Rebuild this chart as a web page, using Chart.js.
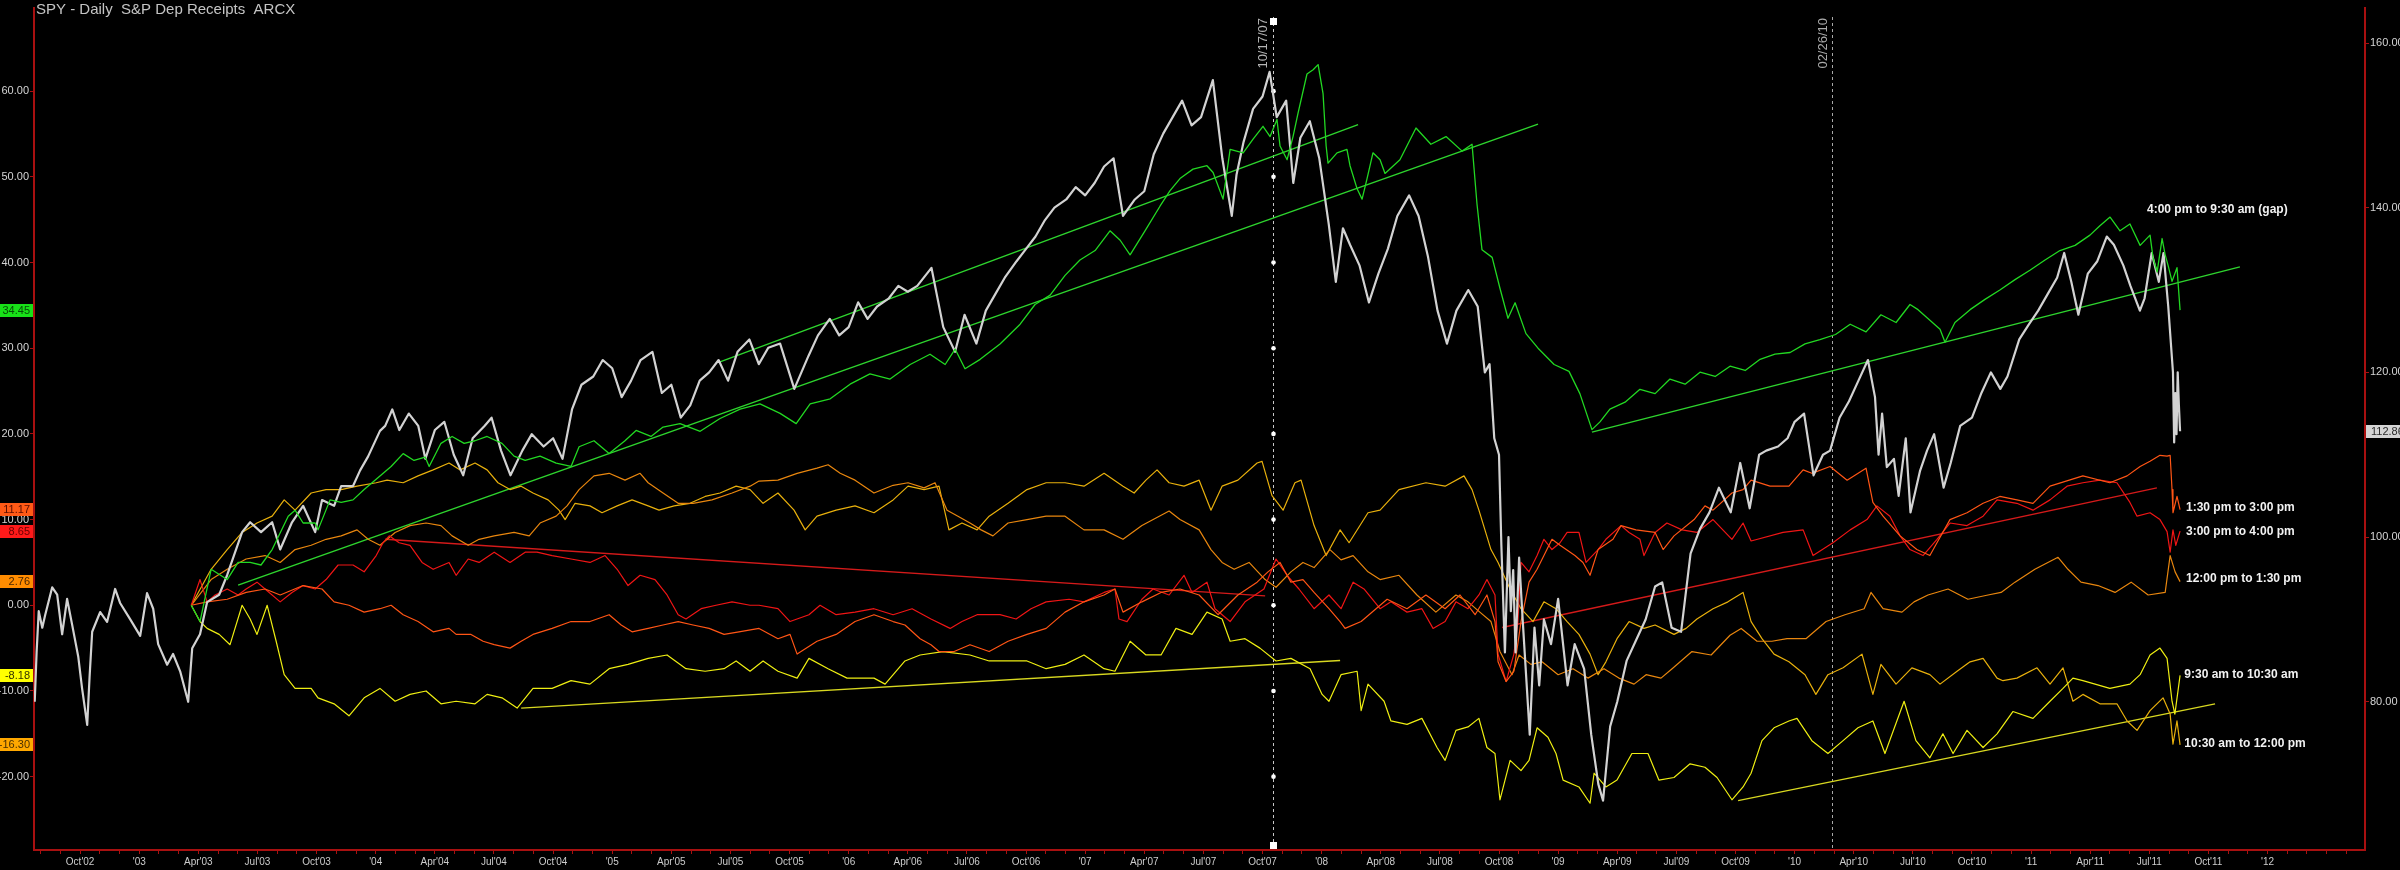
<!DOCTYPE html>
<html><head><meta charset="utf-8">
<script src="https://cdn.jsdelivr.net/npm/chart.js@4.4.1/dist/chart.umd.min.js"></script>
<style>html,body{margin:0;padding:0;background:#000;overflow:hidden}</style>
</head><body>
<canvas id="c" width="2400" height="870"></canvas>
<script>
// ---------- DATA ----------
const chartTitle = "SPY - Daily  S&P Dep Receipts  ARCX";
const xTickLabels = ["Oct'02","'03","Apr'03","Jul'03","Oct'03","'04","Apr'04","Jul'04","Oct'04","'05","Apr'05","Jul'05","Oct'05","'06","Apr'06","Jul'06","Oct'06","'07","Apr'07","Jul'07","Oct'07","'08","Apr'08","Jul'08","Oct'08","'09","Apr'09","Jul'09","Oct'09","'10","Apr'10","Jul'10","Oct'10","'11","Apr'11","Jul'11","Oct'11","'12"];
const leftTicks = [-20,-10,0,10,20,30,40,50,60];
const rightTicks = [80,100,120,140,160];
const seriesNames = ["4:00 pm to 9:30 am (gap)","1:30 pm to 3:00 pm","3:00 pm to 4:00 pm","12:00 pm to 1:30 pm","9:30 am to 10:30 am","10:30 am to 12:00 pm"];
const markerDates = [2007.793, 2010.158];
const markerLabels = ["10/17/07","02/26/10"];

// SPY price (right axis): [year fraction, price]
const spy = [[2002.558,80],[2002.566,86],[2002.575,91],[2002.59,89],[2002.602,90.5],[2002.632,93.9],[2002.653,93],[2002.674,88.2],[2002.695,92.5],[2002.716,89.4],[2002.742,85.5],[2002.758,81.7],[2002.78,77.2],[2002.79,83],[2002.801,88.5],[2002.835,90.9],[2002.864,89.7],[2002.898,93.7],[2002.919,92],[2002.962,90],[2003.004,88],[2003.033,93.2],[2003.059,91.3],[2003.08,87],[2003.118,84.5],[2003.143,85.8],[2003.173,83.7],[2003.207,80],[2003.224,86.5],[2003.257,88.2],[2003.287,92.1],[2003.338,93],[2003.372,95.4],[2003.435,100.6],[2003.469,101.8],[2003.515,100.6],[2003.562,101.8],[2003.596,98.5],[2003.646,101.8],[2003.693,103.8],[2003.744,100.6],[2003.773,104.5],[2003.824,103.8],[2003.854,106.2],[2003.904,106.2],[2003.934,108.1],[2003.968,109.8],[2004.018,112.9],[2004.04,113.5],[2004.07,115.5],[2004.1,113],[2004.14,115],[2004.18,113.5],[2004.21,109.5],[2004.25,113],[2004.29,114],[2004.33,110],[2004.37,107.5],[2004.41,112],[2004.46,113.5],[2004.49,114.5],[2004.53,110.5],[2004.57,107.5],[2004.62,110.5],[2004.66,112.5],[2004.71,111],[2004.75,112],[2004.79,109.5],[2004.83,115.5],[2004.87,118.5],[2004.92,119.5],[2004.96,121.5],[2005,120.5],[2005.04,117],[2005.08,119],[2005.12,121.5],[2005.17,122.5],[2005.21,117.5],[2005.25,118.5],[2005.29,114.5],[2005.33,116],[2005.37,119],[2005.41,120],[2005.45,121.5],[2005.49,119],[2005.53,122.5],[2005.58,124],[2005.62,121],[2005.66,123],[2005.71,123.5],[2005.77,118],[2005.83,122],[2005.87,124.5],[2005.92,126.5],[2005.96,124.5],[2006,125.5],[2006.04,128.5],[2006.08,126.5],[2006.12,128],[2006.17,129],[2006.21,130.5],[2006.25,129.8],[2006.29,130.5],[2006.35,132.7],[2006.4,125.5],[2006.45,122.5],[2006.49,127],[2006.54,123.5],[2006.58,127.5],[2006.62,129.5],[2006.66,131.5],[2006.71,133.5],[2006.75,135],[2006.79,136.5],[2006.83,138.5],[2006.87,140],[2006.92,141],[2006.96,142.5],[2007,141.5],[2007.04,143],[2007.08,145],[2007.12,146],[2007.16,139],[2007.21,141],[2007.25,142],[2007.29,146.5],[2007.33,149],[2007.37,151],[2007.41,153],[2007.45,150],[2007.49,151],[2007.54,155.5],[2007.58,146],[2007.62,139],[2007.64,144],[2007.67,148],[2007.71,152],[2007.75,153.5],[2007.78,156.5],[2007.81,151],[2007.85,153],[2007.88,143],[2007.91,148.5],[2007.95,150.5],[2007.99,146],[2008.03,138],[2008.06,131],[2008.09,137.5],[2008.12,135.5],[2008.16,133],[2008.2,128.5],[2008.24,132],[2008.28,135],[2008.32,139],[2008.37,141.5],[2008.41,139],[2008.45,134],[2008.49,127.5],[2008.53,123.5],[2008.57,127.5],[2008.62,130],[2008.66,128],[2008.69,120],[2008.71,121],[2008.73,112],[2008.75,110],[2008.76,99],[2008.775,86],[2008.79,100],[2008.8,91],[2008.81,96],[2008.82,86],[2008.835,97.5],[2008.85,90],[2008.88,76],[2008.9,89],[2008.92,82],[2008.94,90],[2008.97,87],[2009,92.5],[2009.04,82],[2009.07,87],[2009.11,84],[2009.14,76],[2009.17,70],[2009.19,68],[2009.22,77],[2009.25,80],[2009.29,85],[2009.33,87.5],[2009.37,90],[2009.41,94],[2009.44,94.5],[2009.48,89],[2009.52,88.5],[2009.56,98],[2009.6,101],[2009.64,103],[2009.68,106],[2009.73,103],[2009.77,109],[2009.81,103.5],[2009.85,110],[2009.88,110.5],[2009.93,111],[2009.97,112],[2010,114],[2010.04,115],[2010.08,107.5],[2010.12,110],[2010.15,110.5],[2010.19,114.5],[2010.23,116.5],[2010.27,119],[2010.31,121.5],[2010.34,117],[2010.355,110],[2010.37,115],[2010.39,108.5],[2010.42,109.5],[2010.44,105],[2010.47,112],[2010.49,103],[2010.53,108],[2010.56,110.5],[2010.59,112.5],[2010.63,106],[2010.66,109],[2010.7,113.5],[2010.75,114.5],[2010.79,117.5],[2010.83,120],[2010.87,118],[2010.9,119.5],[2010.95,124],[2010.99,125.8],[2011.03,127.5],[2011.07,129.5],[2011.11,131.5],[2011.14,134.5],[2011.17,131],[2011.2,127],[2011.24,132],[2011.28,133.5],[2011.32,136.5],[2011.35,135.5],[2011.39,133],[2011.42,130.5],[2011.46,127.5],[2011.48,129],[2011.51,134.5],[2011.54,131],[2011.56,134.5],[2011.58,128],[2011.6,120],[2011.605,111.5],[2011.61,117.5],[2011.615,112.5],[2011.62,120],[2011.625,116],[2011.63,112.86]];

// cumulative points (left axis): [year fraction, value]
const gap = [[2003.22,0],[2003.257,-1.9],[2003.304,4.2],[2003.372,3],[2003.418,5],[2003.469,5],[2003.515,4.7],[2003.562,6.5],[2003.63,10.4],[2003.659,11.1],[2003.693,9.6],[2003.744,9.6],[2003.756,8.8],[2003.807,12.3],[2003.854,12],[2003.904,12.3],[2003.951,13.5],[2004.018,15.1],[2004.065,16.2],[2004.116,17.7],[2004.162,16.9],[2004.209,17.3],[2004.226,16.2],[2004.276,18.9],[2004.323,19.7],[2004.374,18.9],[2004.42,19.2],[2004.471,19.7],[2004.534,18.9],[2004.585,17.4],[2004.632,16.9],[2004.695,17.4],[2004.763,16.6],[2004.826,16.2],[2004.86,18.5],[2004.923,19.2],[2004.987,17.7],[2005.054,19.2],[2005.101,20.4],[2005.164,19.7],[2005.215,20.8],[2005.287,21.2],[2005.372,20.3],[2005.456,21.8],[2005.541,22.9],[2005.625,23.5],[2005.71,22.4],[2005.778,21.2],[2005.837,23.5],[2005.922,24.1],[2006.006,25.8],[2006.09,27],[2006.175,26.4],[2006.26,28.1],[2006.344,29.3],[2006.408,28.1],[2006.45,29.9],[2006.492,27.6],[2006.556,28.7],[2006.64,30.5],[2006.725,32.8],[2006.788,35.1],[2006.852,36.2],[2006.915,38.5],[2006.978,40.3],[2007.042,41.4],[2007.105,43.7],[2007.148,42.6],[2007.19,40.9],[2007.253,43.7],[2007.317,46.6],[2007.359,48.4],[2007.401,49.8],[2007.456,50.9],[2007.515,51.3],[2007.541,50.5],[2007.583,47.4],[2007.613,53.2],[2007.668,52.8],[2007.71,54.4],[2007.752,55.9],[2007.782,54.7],[2007.811,56.7],[2007.824,53.6],[2007.854,52],[2007.879,54.7],[2007.9,57.4],[2007.938,62],[2007.964,62.5],[2007.985,63.1],[2008.006,59.7],[2008.019,53.6],[2008.027,51.6],[2008.065,52.8],[2008.107,53.2],[2008.12,51.3],[2008.15,48.6],[2008.171,47.4],[2008.192,49.8],[2008.217,52.8],[2008.247,52],[2008.268,50.4],[2008.331,52],[2008.399,55.7],[2008.462,53.8],[2008.526,54.7],[2008.594,53],[2008.636,53.8],[2008.657,46.8],[2008.678,41.5],[2008.721,40.6],[2008.754,37],[2008.788,33.5],[2008.818,35.3],[2008.864,31.7],[2008.915,30],[2008.983,28.1],[2009.046,27.3],[2009.092,24.7],[2009.143,20.5],[2009.177,21.4],[2009.219,22.9],[2009.283,23.7],[2009.346,25.2],[2009.41,24.7],[2009.473,26.4],[2009.537,25.8],[2009.6,27.2],[2009.664,26.7],[2009.727,27.9],[2009.791,27.4],[2009.854,28.7],[2009.917,29.3],[2009.981,29.5],[2010.044,30.5],[2010.107,31],[2010.173,31.6],[2010.235,32.8],[2010.302,31.9],[2010.365,33.9],[2010.429,33],[2010.488,35.1],[2010.522,34.5],[2010.615,32.2],[2010.636,30.7],[2010.678,33],[2010.742,34.5],[2010.805,35.7],[2010.868,36.8],[2010.932,38],[2010.995,39.1],[2011.059,40.3],[2011.122,41.4],[2011.186,42],[2011.249,43.2],[2011.291,44.3],[2011.334,45.3],[2011.376,43.7],[2011.418,44.5],[2011.461,42],[2011.503,43.2],[2011.516,40.5],[2011.533,38.9],[2011.554,42.8],[2011.567,40.9],[2011.579,39.7],[2011.596,37.8],[2011.617,39.4],[2011.63,34.45]];

const pm130 = [[2003.22,0],[2003.287,0.4],[2003.372,0.7],[2003.452,1.5],[2003.532,1.9],[2003.596,1.2],[2003.693,2.3],[2003.773,1.9],[2003.824,0.4],[2003.887,0],[2003.951,-0.8],[2004.018,-0.4],[2004.065,0],[2004.116,-1.1],[2004.179,-1.9],[2004.243,-3.1],[2004.31,-2.7],[2004.34,-3.4],[2004.403,-3.4],[2004.454,-4.2],[2004.501,-4.6],[2004.568,-5],[2004.615,-4.2],[2004.665,-3.4],[2004.746,-2.7],[2004.826,-1.9],[2004.906,-1.9],[2004.987,-1.1],[2005.038,-2.3],[2005.084,-3.1],[2005.152,-2.7],[2005.215,-2.3],[2005.279,-1.9],[2005.342,-2.3],[2005.41,-2.7],[2005.473,-3.4],[2005.536,-3.1],[2005.621,-2.7],[2005.701,-3.9],[2005.752,-3.4],[2005.782,-5.7],[2005.866,-4.2],[2005.947,-3.4],[2006.027,-1.9],[2006.107,-1.1],[2006.188,-1.9],[2006.238,-2.3],[2006.302,-3.9],[2006.348,-4.6],[2006.382,-5.4],[2006.446,-5.4],[2006.513,-4.6],[2006.594,-5.4],[2006.674,-4.2],[2006.754,-3.4],[2006.835,-2.7],[2006.915,-0.8],[2006.995,0.4],[2007.08,1.2],[2007.126,1.9],[2007.16,-0.8],[2007.24,0.4],[2007.321,1.5],[2007.401,1.9],[2007.482,1.2],[2007.562,-1.1],[2007.646,1.2],[2007.727,2.7],[2007.773,3.9],[2007.824,5],[2007.87,2.7],[2007.921,3],[2007.968,1.5],[2008.031,-0.4],[2008.078,-1.9],[2008.099,-2.7],[2008.167,-1.9],[2008.23,-0.4],[2008.277,0.7],[2008.361,-0.4],[2008.441,1.2],[2008.522,-0.4],[2008.585,1.2],[2008.649,-1.1],[2008.699,1.2],[2008.733,-1.9],[2008.746,-6.6],[2008.78,-8.9],[2008.813,-7.7],[2008.843,-1.9],[2008.877,2.7],[2008.911,4.2],[2008.94,5.8],[2008.974,7.7],[2009.008,7],[2009.071,5.8],[2009.105,5],[2009.135,3.5],[2009.169,6.5],[2009.232,7.7],[2009.266,9.3],[2009.329,8.8],[2009.41,8.5],[2009.444,6.5],[2009.49,8.1],[2009.575,10],[2009.621,11.6],[2009.655,11.1],[2009.735,13.1],[2009.782,13.5],[2009.816,14.6],[2009.896,13.9],[2009.976,13.9],[2010.036,15.8],[2010.073,15.4],[2010.15,16.2],[2010.222,14.6],[2010.302,16],[2010.331,12],[2010.374,10.4],[2010.446,8.1],[2010.517,6.5],[2010.572,5.8],[2010.602,7.3],[2010.657,10],[2010.729,10.8],[2010.797,11.9],[2010.868,12.7],[2010.94,12.3],[2011.008,11.9],[2011.08,13.9],[2011.219,15.1],[2011.333,14.3],[2011.406,15.1],[2011.461,16.2],[2011.503,16.8],[2011.545,17.5],[2011.575,17.4],[2011.588,17.5],[2011.596,13.5],[2011.6,10.8],[2011.617,12.7],[2011.63,11.17]];

const pm300 = [[2003.22,0],[2003.257,3],[2003.287,0.4],[2003.321,1.2],[2003.372,1.9],[2003.418,1.2],[2003.452,1.9],[2003.498,2.7],[2003.532,1.9],[2003.596,0.4],[2003.646,1.5],[2003.693,2.3],[2003.744,1.9],[2003.79,3],[2003.841,4.7],[2003.904,4.7],[2003.951,3.9],[2004.002,5.8],[2004.031,7.3],[2004.057,8.1],[2004.099,7.3],[2004.145,7],[2004.196,5],[2004.243,4.2],[2004.31,5],[2004.34,3.5],[2004.391,5.4],[2004.437,5],[2004.501,6.2],[2004.568,5],[2004.632,6.2],[2004.682,6.2],[2004.746,5.8],[2004.826,5.4],[2004.906,5],[2004.97,5.8],[2005.021,4.2],[2005.067,2.3],[2005.118,3.5],[2005.181,3],[2005.232,1.2],[2005.279,-1.1],[2005.312,-1.6],[2005.376,-0.4],[2005.439,0],[2005.507,0.4],[2005.583,0],[2005.621,0],[2005.701,-0.4],[2005.752,-1.9],[2005.832,-1.1],[2005.879,0],[2005.947,-1.1],[2006.027,-0.8],[2006.107,-0.4],[2006.188,-1.1],[2006.268,-0.4],[2006.348,-1.6],[2006.429,-2.7],[2006.479,-1.9],[2006.543,-1.1],[2006.64,-1.1],[2006.708,-1.6],[2006.771,-0.4],[2006.835,0.4],[2006.932,0.7],[2006.995,0.4],[2007.08,1.5],[2007.126,1.9],[2007.143,-1.6],[2007.177,-1.9],[2007.24,0.7],[2007.287,1.9],[2007.355,1.2],[2007.418,3.5],[2007.452,1.5],[2007.515,2.7],[2007.549,-0.4],[2007.613,-1.9],[2007.676,0.4],[2007.756,1.9],[2007.807,5.4],[2007.854,3.5],[2007.904,1.9],[2007.968,-0.4],[2008.031,1.2],[2008.082,-0.4],[2008.133,2.7],[2008.179,1.9],[2008.247,-0.4],[2008.293,0.4],[2008.361,-0.8],[2008.424,-0.4],[2008.471,-2.7],[2008.522,-1.9],[2008.568,0.4],[2008.619,-0.4],[2008.665,1.2],[2008.699,3],[2008.733,1.2],[2008.746,-5.7],[2008.78,-8.9],[2008.813,-5.7],[2008.83,-1.9],[2008.843,5],[2008.877,3.9],[2008.911,5.8],[2008.94,7.7],[2008.974,6.5],[2009.008,7.3],[2009.038,8.5],[2009.088,8.5],[2009.118,5],[2009.169,6.5],[2009.202,7.7],[2009.266,9.3],[2009.3,8.5],[2009.346,7.7],[2009.363,5.8],[2009.41,8.5],[2009.46,9.6],[2009.524,8.8],[2009.587,8.5],[2009.655,10],[2009.735,7.7],[2009.782,9.6],[2009.816,7.5],[2009.951,8.5],[2010.036,8.8],[2010.078,5.8],[2010.162,7.3],[2010.235,8.8],[2010.306,10],[2010.348,11.6],[2010.403,10.4],[2010.446,8.1],[2010.488,6.5],[2010.543,5.8],[2010.602,7.7],[2010.657,9.6],[2010.729,9.3],[2010.797,10.4],[2010.856,12.3],[2010.94,11.9],[2011.008,11.1],[2011.08,12.3],[2011.152,13.9],[2011.219,14.3],[2011.291,14.6],[2011.363,14.3],[2011.418,12],[2011.448,10.4],[2011.503,10.8],[2011.545,10],[2011.575,8.6],[2011.588,6.2],[2011.6,8.8],[2011.612,7],[2011.63,8.65]];

const pm1200 = [[2003.22,0],[2003.304,3],[2003.372,4.2],[2003.452,5.4],[2003.532,5.8],[2003.596,5],[2003.659,6.5],[2003.727,7],[2003.79,7.7],[2003.854,8.1],[2003.921,8.8],[2003.968,7.7],[2004.018,7],[2004.082,8.5],[2004.145,9.3],[2004.213,9.6],[2004.276,9.3],[2004.323,8.1],[2004.391,7],[2004.437,7.7],[2004.501,8.1],[2004.585,8.5],[2004.649,8.1],[2004.695,9.6],[2004.763,10.4],[2004.809,11.6],[2004.86,13.5],[2004.923,15.1],[2004.987,15.4],[2005.054,14.6],[2005.118,15.4],[2005.152,14.3],[2005.215,13.1],[2005.279,11.9],[2005.342,11.9],[2005.422,12.3],[2005.507,13.1],[2005.583,13.9],[2005.621,14.5],[2005.701,14.6],[2005.782,15.4],[2005.866,16],[2005.913,16.4],[2005.964,15.4],[2006.027,14.6],[2006.107,13.1],[2006.188,14],[2006.251,14.3],[2006.319,13.7],[2006.365,14.3],[2006.416,11.1],[2006.462,10.4],[2006.513,9.6],[2006.56,8.8],[2006.61,8.1],[2006.674,9.6],[2006.754,10],[2006.835,10.4],[2006.915,10.4],[2006.995,8.8],[2007.08,8.8],[2007.16,7.7],[2007.24,9.3],[2007.355,11],[2007.401,10],[2007.482,8.8],[2007.532,6.5],[2007.579,5],[2007.63,4.2],[2007.693,5],[2007.761,3],[2007.807,2.1],[2007.87,3.9],[2007.921,5],[2007.968,4.4],[2008.035,6.5],[2008.082,5.3],[2008.133,5.8],[2008.196,3.9],[2008.247,3],[2008.327,3.5],[2008.403,1.2],[2008.483,-0.8],[2008.568,1.2],[2008.619,0.4],[2008.669,-0.8],[2008.716,-1.9],[2008.754,-5.4],[2008.805,-8.1],[2008.835,-5.8],[2008.885,-6.9],[2008.932,-6.6],[2009,-8.1],[2009.063,-7.4],[2009.126,-8.5],[2009.194,-7.4],[2009.257,-8.5],[2009.321,-9.2],[2009.372,-8.1],[2009.435,-8.5],[2009.482,-7.4],[2009.566,-5.4],[2009.647,-5.8],[2009.727,-3.5],[2009.774,-2.7],[2009.841,-4.2],[2009.904,-4.2],[2009.968,-3.9],[2010.048,-3.9],[2010.133,-1.9],[2010.213,-1.1],[2010.294,-0.4],[2010.323,1.5],[2010.374,-0.4],[2010.454,-0.8],[2010.505,0.4],[2010.564,1.2],[2010.649,1.9],[2010.733,0.7],[2010.818,1.2],[2010.873,1.5],[2010.932,2.7],[2011.016,4.2],[2011.071,5],[2011.114,5.6],[2011.156,4.2],[2011.211,2.7],[2011.283,2.3],[2011.355,1.5],[2011.423,2.7],[2011.495,1.2],[2011.567,1.5],[2011.588,5.8],[2011.609,3.9],[2011.63,2.76]];

const am930 = [[2003.22,0],[2003.257,-1.9],[2003.287,-2.7],[2003.338,-3.4],[2003.384,-4.6],[2003.435,0],[2003.469,-1.6],[2003.498,-3.4],[2003.541,0],[2003.579,-4.2],[2003.613,-8.1],[2003.659,-9.7],[2003.727,-9.7],[2003.756,-10.8],[2003.824,-11.5],[2003.887,-12.9],[2003.951,-10.8],[2004.018,-9.7],[2004.082,-11.2],[2004.145,-10.4],[2004.213,-10],[2004.276,-11.5],[2004.34,-11.2],[2004.42,-11.5],[2004.471,-10.4],[2004.534,-10.8],[2004.598,-12],[2004.665,-9.7],[2004.746,-9.7],[2004.826,-8.8],[2004.906,-9.2],[2004.987,-7.4],[2005.067,-6.9],[2005.152,-6.2],[2005.232,-5.8],[2005.312,-7.4],[2005.393,-7.7],[2005.473,-7.4],[2005.524,-6.5],[2005.583,-7.7],[2005.638,-6.5],[2005.701,-7.7],[2005.782,-8.5],[2005.832,-6.2],[2005.913,-7.4],[2005.993,-8.5],[2006.107,-8.5],[2006.154,-9.2],[2006.238,-6.5],[2006.302,-5.8],[2006.399,-5.4],[2006.513,-5.8],[2006.594,-6.5],[2006.674,-6.5],[2006.754,-6.5],[2006.835,-7.4],[2006.915,-6.9],[2006.995,-5.8],[2007.08,-7.4],[2007.126,-7.7],[2007.19,-4.2],[2007.257,-5.8],[2007.321,-5.8],[2007.384,-2.7],[2007.452,-3.4],[2007.515,-0.8],[2007.579,-1.6],[2007.613,-4.2],[2007.676,-3.9],[2007.739,-5],[2007.807,-6.5],[2007.87,-6.2],[2007.951,-7.4],[2008.002,-10.4],[2008.031,-11.2],[2008.082,-8.1],[2008.15,-7.7],[2008.167,-12.3],[2008.196,-9.2],[2008.264,-11.2],[2008.293,-13.5],[2008.361,-13.9],[2008.424,-13.2],[2008.488,-16.6],[2008.522,-18.1],[2008.568,-14.6],[2008.619,-14.2],[2008.665,-13.2],[2008.699,-16.6],[2008.733,-17.3],[2008.754,-22.7],[2008.797,-18.1],[2008.843,-19.3],[2008.877,-18.1],[2008.911,-14.3],[2008.957,-15.4],[2008.991,-17.3],[2009.021,-20.4],[2009.088,-21.2],[2009.135,-23.1],[2009.152,-19.6],[2009.202,-21.2],[2009.249,-20.4],[2009.312,-17.3],[2009.38,-17.3],[2009.426,-20.4],[2009.49,-20.1],[2009.558,-18.5],[2009.621,-18.9],[2009.672,-20.1],[2009.735,-22.7],[2009.782,-21.2],[2009.816,-19.6],[2009.862,-15.8],[2009.913,-14.3],[2009.976,-13.5],[2010.01,-13.2],[2010.073,-15.8],[2010.141,-17.3],[2010.205,-15.8],[2010.268,-14.3],[2010.331,-13.5],[2010.382,-17.3],[2010.463,-11.2],[2010.513,-15.8],[2010.572,-17.8],[2010.627,-15],[2010.67,-17.3],[2010.729,-14.6],[2010.797,-16.6],[2010.856,-15],[2010.923,-12.4],[2011.008,-13.2],[2011.08,-11.2],[2011.135,-9.7],[2011.177,-8.5],[2011.219,-8.8],[2011.333,-9.7],[2011.418,-9.2],[2011.461,-8.1],[2011.503,-5.8],[2011.545,-5],[2011.575,-6.2],[2011.596,-11.2],[2011.608,-12.7],[2011.63,-8.18]];

const am1030 = [[2003.22,0],[2003.304,4.2],[2003.372,6.5],[2003.435,8.5],[2003.498,9.6],[2003.562,10.4],[2003.613,12.3],[2003.659,11.1],[2003.727,13.1],[2003.79,13.5],[2003.854,13.5],[2003.921,13.9],[2004.002,14.3],[2004.048,14.6],[2004.116,14.3],[2004.179,15.1],[2004.243,15.8],[2004.31,16.6],[2004.357,15.8],[2004.42,16.6],[2004.471,15.8],[2004.517,14.3],[2004.568,13.5],[2004.615,13.9],[2004.665,13.1],[2004.729,12.3],[2004.775,11.1],[2004.801,10],[2004.843,11.9],[2004.906,11.6],[2004.957,10.8],[2005.021,11.6],[2005.084,12.3],[2005.152,11.6],[2005.198,11.1],[2005.262,11.6],[2005.329,11.9],[2005.393,12.7],[2005.456,13.1],[2005.524,13.9],[2005.583,13.5],[2005.638,11.9],[2005.701,13.1],[2005.769,11.1],[2005.816,8.8],[2005.866,10.4],[2005.947,11.1],[2006.027,11.6],[2006.107,10.8],[2006.188,12.3],[2006.251,13.9],[2006.319,13.5],[2006.382,13.9],[2006.424,8.8],[2006.479,9.6],[2006.543,8.8],[2006.594,10.4],[2006.674,11.9],[2006.754,13.5],[2006.835,14.3],[2006.915,14.3],[2006.995,13.9],[2007.08,15.4],[2007.16,13.9],[2007.207,13.1],[2007.257,14.6],[2007.304,15.8],[2007.355,14.3],[2007.418,13.9],[2007.482,14.6],[2007.532,11.1],[2007.579,13.9],[2007.646,14.6],[2007.727,16.6],[2007.748,16.8],[2007.79,12.8],[2007.837,11.1],[2007.887,14.3],[2007.913,14.6],[2007.968,9.3],[2008.019,5.8],[2008.078,8.8],[2008.116,7.3],[2008.196,10.8],[2008.247,11.1],[2008.327,13.5],[2008.441,14.3],[2008.522,13.9],[2008.602,15.1],[2008.636,13.5],[2008.665,11.1],[2008.716,6.5],[2008.746,5],[2008.797,1.9],[2008.843,-0.4],[2008.894,-1.9],[2008.94,0.4],[2008.991,-0.4],[2009.038,-1.9],[2009.088,-3.4],[2009.135,-5.7],[2009.169,-8.1],[2009.202,-6.6],[2009.249,-3.9],[2009.3,-1.9],[2009.363,-2.7],[2009.41,-2.3],[2009.49,-3.4],[2009.541,-2.7],[2009.587,-1.6],[2009.655,-0.4],[2009.718,0.4],[2009.782,1.5],[2009.816,-1.9],[2009.862,-3.9],[2009.913,-5.7],[2009.976,-6.6],[2010.044,-8.1],[2010.09,-10.4],[2010.141,-8.1],[2010.205,-7.3],[2010.285,-5.7],[2010.331,-10.4],[2010.365,-6.9],[2010.429,-9.2],[2010.496,-7.3],[2010.572,-8.1],[2010.615,-9.2],[2010.687,-7.7],[2010.742,-6.6],[2010.797,-6.2],[2010.856,-8.5],[2010.881,-8.8],[2010.94,-8.5],[2011.025,-7.3],[2011.08,-9.2],[2011.135,-7.3],[2011.177,-11.2],[2011.219,-10.4],[2011.291,-11.5],[2011.363,-11.5],[2011.406,-13.5],[2011.448,-14.6],[2011.503,-12.3],[2011.558,-10.8],[2011.588,-12.7],[2011.6,-16.2],[2011.617,-13.5],[2011.63,-16.3]];

// trend lines drawn on the chart: [year fraction, value]
const trendGapLong = [[2003.418,2.35],[2008.915,56.15]];
const trendGapShort = [[2005.456,28.4],[2008.154,56.1]];
const trendGapRecent = [[2009.143,20.2],[2011.883,39.5]];
const trendRedDown = [[2004.04,7.7],[2007.761,1.1]];
const trendRedUp = [[2008.763,-2.6],[2011.532,13.7]];
const trendYellowEarly = [[2004.615,-12.0],[2008.078,-6.45]];
const trendYellowLate = [[2009.761,-22.8],[2011.778,-11.5]];

// ---------- STYLE ----------
const FONT = "'Liberation Sans', Arial, sans-serif";
const cols = {gap:'#22d822', pm130:'#ff5515', pm300:'#f01515', pm1200:'#e8860e', am930:'#eeee12', am1030:'#e8b00c'};
const toXY = a => a.map(p => ({x:p[0], y:p[1]}));
const line = (label, data, color, axis, w) => ({label, data: toXY(data), borderColor: color, borderWidth: w, yAxisID: axis, pointRadius: 0, fill: false});

const datasets = [
  line(seriesNames[0], gap, cols.gap, 'yL', 1.3),
  line('SPY', spy, '#d2d2d2', 'yR', 2.2),
  line(seriesNames[1], pm130, cols.pm130, 'yL', 1.2),
  line(seriesNames[2], pm300, cols.pm300, 'yL', 1.2),
  line(seriesNames[3], pm1200, cols.pm1200, 'yL', 1.2),
  line(seriesNames[4], am930, cols.am930, 'yL', 1.2),
  line(seriesNames[5], am1030, cols.am1030, 'yL', 1.2),
  line('t1', trendGapLong, '#2ed42e', 'yL', 1.4),
  line('t2', trendGapShort, '#2ed42e', 'yL', 1.4),
  line('t3', trendGapRecent, '#2ed42e', 'yL', 1.4),
  line('t4', trendRedDown, '#d41a1a', 'yL', 1.4),
  line('t5', trendRedUp, '#d41a1a', 'yL', 1.4),
  line('t6', trendYellowEarly, '#d8d820', 'yL', 1.4),
  line('t7', trendYellowLate, '#d8d820', 'yL', 1.4)
];

const endBoxes = [
  {v: gap[gap.length-1][1], bg:'#18e018', fg:'#064a06'},
  {v: pm130[pm130.length-1][1], bg:'#ff5a16', fg:'#5a0e00'},
  {v: pm300[pm300.length-1][1], bg:'#ff1a1a', fg:'#6a0000'},
  {v: pm1200[pm1200.length-1][1], bg:'#ff8c00', fg:'#4a2600'},
  {v: am930[am930.length-1][1], bg:'#ffff00', fg:'#333300'},
  {v: am1030[am1030.length-1][1], bg:'#ffa800', fg:'#4a3000'}
];
const labelSpots = [
  {text: seriesNames[0], t: 2011.49, v: 46.2},
  {text: seriesNames[1], t: 2011.655, v: 11.4},
  {text: seriesNames[2], t: 2011.655, v: 8.6},
  {text: seriesNames[3], t: 2011.655, v: 3.1},
  {text: seriesNames[4], t: 2011.648, v: -8.1},
  {text: seriesNames[5], t: 2011.648, v: -16.1}
];

const overlay = {
  id: 'overlay',
  beforeDraw(chart) {
    const c = chart.ctx; c.save(); c.fillStyle = '#000'; c.fillRect(0, 0, chart.width, chart.height); c.restore();
  },
  beforeDatasetsDraw(chart) {
    const ctx = chart.ctx, xs = chart.scales.x, yl = chart.scales.yL, ca = chart.chartArea;
    ctx.save();
    markerDates.forEach((d, i) => {
      const x = Math.round(xs.getPixelForValue(d)) + 0.5;
      ctx.strokeStyle = i === 0 ? '#c8c8c8' : '#a8a8a8';
      ctx.lineWidth = 1;
      ctx.setLineDash([3, 3]);
      ctx.beginPath(); ctx.moveTo(x, 17); ctx.lineTo(x, ca.bottom - 2); ctx.stroke();
      ctx.setLineDash([]);
      if (i === 0) {
        ctx.fillStyle = '#ffffff';
        ctx.fillRect(x - 3.5, 18, 7, 7);
        ctx.fillRect(x - 3.5, ca.bottom - 8, 7, 7);
        leftTicks.forEach(v => {
          ctx.beginPath(); ctx.arc(x, yl.getPixelForValue(v), 2.3, 0, Math.PI * 2); ctx.fill();
        });
      }
    });
    ctx.restore();
  },
  afterDraw(chart) {
    const ctx = chart.ctx, xs = chart.scales.x, yl = chart.scales.yL, yr = chart.scales.yR, ca = chart.chartArea;
    ctx.save();
    markerDates.forEach((d, i) => {
      const x = xs.getPixelForValue(d);
      ctx.save();
      ctx.translate(x - 9, 18);
      ctx.rotate(-Math.PI / 2);
      ctx.font = '13px ' + FONT;
      ctx.fillStyle = i === 0 ? '#b4b4b4' : '#aaaaaa';
      ctx.textAlign = 'right'; ctx.textBaseline = 'middle';
      ctx.fillText(markerLabels[i], 0, 0);
      ctx.restore();
    });
    ctx.font = '15px ' + FONT;
    ctx.fillStyle = '#c4c4c4';
    ctx.textAlign = 'left'; ctx.textBaseline = 'top';
    ctx.fillText(chartTitle, 36, 2);
    ctx.font = 'bold 12px ' + FONT;
    ctx.fillStyle = '#f2f2f2';
    ctx.textBaseline = 'middle';
    labelSpots.forEach(l => ctx.fillText(l.text, xs.getPixelForValue(l.t), yl.getPixelForValue(l.v)));
    ctx.font = '11px ' + FONT;
    ctx.textAlign = 'right';
    endBoxes.forEach(b => {
      const y = yl.getPixelForValue(b.v);
      ctx.fillStyle = b.bg; ctx.fillRect(0, Math.round(y - 6.5), 33, 13);
      ctx.fillStyle = b.fg; ctx.fillText(b.v.toFixed(2), 30, y + 0.5);
    });
    const last = spy[spy.length - 1][1];
    const yp = yr.getPixelForValue(last);
    ctx.fillStyle = '#d4d4d4'; ctx.fillRect(ca.right + 1, Math.round(yp - 6.5), 40, 13);
    ctx.fillStyle = '#2a2a2a'; ctx.textAlign = 'left';
    ctx.fillText(last.toFixed(2), ca.right + 6, yp + 0.5);
    ctx.restore();
  }
};

const axisRed = '#a81010';
new Chart(document.getElementById('c'), {
  type: 'line',
  data: { datasets },
  options: {
    responsive: false, animation: false, devicePixelRatio: 1,
    layout: { padding: 0 },
    elements: { line: { tension: 0, borderJoinStyle: 'round' }, point: { radius: 0 } },
    plugins: { legend: { display: false }, tooltip: { enabled: false }, title: { display: false } },
    scales: {
      x: {
        type: 'linear', min: 2002.555, max: 2012.412,
        afterBuildTicks: s => {
          const t = [];
          for (let y = 2002; y <= 2012; y++) for (let m = 0; m < 12; m++) {
            const v = y + m / 12;
            if (v >= 2002.555 && v <= 2012.412) t.push({ value: v });
          }
          s.ticks = t;
        },
        afterFit: s => { s.height = 20; },
        ticks: {
          autoSkip: false, maxRotation: 0, minRotation: 0, padding: 2, color: '#cccccc',
          font: { size: 10, family: FONT },
          callback: v => {
            const q = (v - 2002.75) * 4, i = Math.round(q);
            return (Math.abs(q - i) < 1e-6 && i >= 0 && i < xTickLabels.length) ? xTickLabels[i] : '';
          }
        },
        grid: { drawOnChartArea: false, drawTicks: true, tickLength: 4, color: axisRed },
        border: { display: true, color: axisRed, width: 2 }
      },
      yL: {
        type: 'linear', position: 'left', min: -28.56, max: 69.75,
        afterBuildTicks: s => { s.ticks = leftTicks.map(v => ({ value: v })); },
        afterFit: s => { s.width = 34; },
        ticks: { padding: 1, color: '#d4d4d4', font: { size: 11, family: FONT }, callback: v => v.toFixed(2) },
        grid: { drawOnChartArea: false, drawTicks: true, tickLength: 4, color: axisRed },
        border: { display: true, color: axisRed, width: 2 }
      },
      yR: {
        type: 'linear', position: 'right', min: 62.0, max: 164.3,
        afterBuildTicks: s => { s.ticks = rightTicks.map(v => ({ value: v })); },
        afterFit: s => { s.width = 35; },
        ticks: { padding: 1, color: '#d4d4d4', font: { size: 11, family: FONT }, callback: v => v.toFixed(2) },
        grid: { drawOnChartArea: false, drawTicks: true, tickLength: 4, color: axisRed },
        border: { display: true, color: axisRed, width: 2 }
      }
    }
  },
  plugins: [overlay]
});
</script>
</body></html>
